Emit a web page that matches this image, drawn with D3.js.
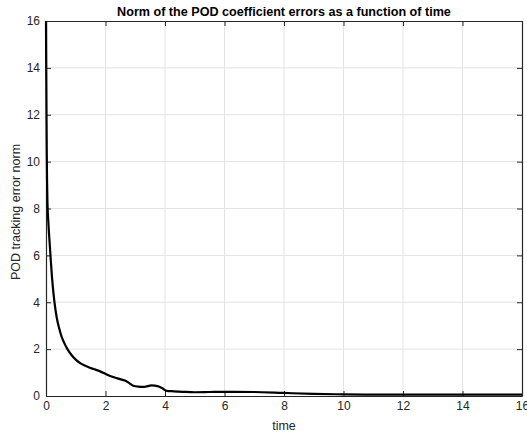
<!DOCTYPE html>
<html>
<head>
<meta charset="utf-8">
<script src="https://cdn.jsdelivr.net/npm/d3@7"></script>
<style>
  body { margin: 0; background: #fff; }
  svg { font-family: "Liberation Sans", Arial, Helvetica, sans-serif; }
</style>
</head>
<body>
<div id="chart"></div>
<script>
// Values
const timeValues = [0, 0.005, 0.015, 0.025, 0.035, 0.05, 0.075, 0.1, 0.13, 0.16, 0.2, 0.25, 0.3, 0.36, 0.44, 0.52, 0.6, 0.72, 0.85, 1.0, 1.15, 1.3, 1.45, 1.6, 1.82, 2.04, 2.26, 2.49, 2.65, 2.8, 2.93, 3.1, 3.3, 3.55, 3.75, 3.9, 4.06, 4.3, 4.6, 5, 5.5, 6, 7, 8, 9, 10, 11, 12, 14, 16];
const errorNorm = [16, 14.5, 12.2, 10.4, 9.2, 8.2, 7.5, 6.95, 6.4, 5.8, 5.1, 4.4, 3.85, 3.35, 2.9, 2.55, 2.3, 2.0, 1.76, 1.55, 1.4, 1.3, 1.22, 1.15, 1.05, 0.92, 0.81, 0.72, 0.66, 0.55, 0.44, 0.4, 0.39, 0.45, 0.42, 0.34, 0.22, 0.2, 0.18, 0.16, 0.17, 0.18, 0.17, 0.13, 0.09, 0.07, 0.06, 0.06, 0.06, 0.06];
const xTicks = [0, 2, 4, 6, 8, 10, 12, 14, 16];
const yTicks = [0, 2, 4, 6, 8, 10, 12, 14, 16];

const width = 527, height = 433;
const margin = { top: 21, right: 5, bottom: 37, left: 46 };
const axisColor = "#262626";

const svg = d3.select("#chart").append("svg")
  .attr("width", width)
  .attr("height", height);

const x = d3.scaleLinear().domain([0, 16]).range([margin.left, width - margin.right]);
const y = d3.scaleLinear().domain([0, 16]).range([height - margin.bottom, margin.top]);

// grid
svg.append("g")
  .selectAll("line.vgrid")
  .data(xTicks.slice(1, -1))
  .enter().append("line")
  .attr("x1", d => x(d)).attr("x2", d => x(d))
  .attr("y1", y(0)).attr("y2", y(16))
  .style("stroke", "#e3e3e3").style("stroke-width", 1);
svg.append("g")
  .selectAll("line.hgrid")
  .data(yTicks.slice(1, -1))
  .enter().append("line")
  .attr("x1", x(0)).attr("x2", x(16))
  .attr("y1", d => y(d)).attr("y2", d => y(d))
  .style("stroke", "#e3e3e3").style("stroke-width", 1);

// axes, ticks pointing inward (MATLAB style)
const styleAxis = (g) => {
  g.selectAll("path.domain").style("stroke", axisColor).style("stroke-width", 1.2);
  g.selectAll(".tick line").style("stroke", axisColor).style("stroke-width", 1);
  g.selectAll("text").style("font-size", "12px").style("fill", axisColor)
    .style("font-family", "'Liberation Sans', Arial, sans-serif");
};

svg.append("g")
  .attr("transform", `translate(0, ${y(0)})`)
  .call(d3.axisBottom(x).tickValues(xTicks).tickSizeInner(-5).tickSizeOuter(0).tickPadding(5))
  .call(styleAxis);

svg.append("g")
  .attr("transform", `translate(${x(0)}, 0)`)
  .call(d3.axisLeft(y).tickValues(yTicks).tickSizeInner(-5).tickSizeOuter(0).tickPadding(6))
  .call(styleAxis);

svg.append("g")
  .attr("transform", `translate(0, ${y(16)})`)
  .call(d3.axisTop(x).tickValues(xTicks).tickSizeInner(-5).tickSizeOuter(0).tickFormat(""))
  .call(styleAxis);

svg.append("g")
  .attr("transform", `translate(${x(16)}, 0)`)
  .call(d3.axisRight(y).tickValues(yTicks).tickSizeInner(-5).tickSizeOuter(0).tickFormat(""))
  .call(styleAxis);

// curve
const points = timeValues.map((t, i) => ({ t: t, v: errorNorm[i] }));
const line = d3.line()
  .x(d => x(d.t))
  .y(d => y(d.v))
  .curve(d3.curveMonotoneX);

svg.append("path")
  .datum(points)
  .attr("d", line)
  .style("fill", "none")
  .style("stroke", "#000")
  .style("stroke-width", 2.2)
  .style("stroke-linejoin", "round");

// labels
svg.append("text")
  .attr("x", (x(0) + x(16)) / 2)
  .attr("y", 16)
  .attr("text-anchor", "middle")
  .style("font-size", "12.6px")
  .style("font-weight", "bold")
  .style("fill", "#000")
  .text("Norm of the POD coefficient errors as a function of time");

svg.append("text")
  .attr("x", (x(0) + x(16)) / 2)
  .attr("y", 430)
  .attr("text-anchor", "middle")
  .style("font-size", "12.5px")
  .style("fill", axisColor)
  .text("time");

svg.append("text")
  .attr("transform", `translate(20, 212) rotate(-90)`)
  .attr("text-anchor", "middle")
  .style("font-size", "12.5px")
  .style("fill", axisColor)
  .text("POD tracking error norm");
</script>
</body>
</html>
